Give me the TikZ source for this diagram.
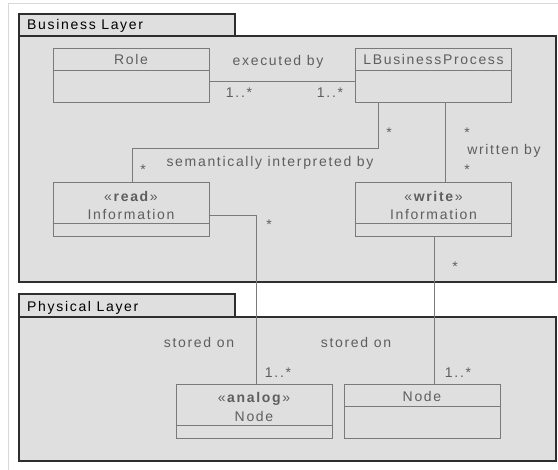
\documentclass[tikz,border=0pt]{standalone}
\usepackage{fontspec}
\setmainfont{Liberation Sans}[LetterSpace=12]
\begin{document}
\definecolor{paneFill}{HTML}{DFDFDF}
\definecolor{frameLine}{HTML}{2E2E2E}
\definecolor{boxLine}{HTML}{7A7A7A}
\definecolor{ink}{HTML}{5E5E5E}
\definecolor{edgeFrame}{HTML}{D8D8D8}
\begin{tikzpicture}[x=1pt,y=-1pt,
  font=\fontsize{14}{16}\selectfont,
  layer/.style={draw=frameLine,fill=paneFill,line width=1.1pt},
  classbox/.style={draw=boxLine,fill=paneFill,line width=0.9pt,minimum width=156pt,minimum height=54pt,inner sep=0pt},
  divider/.style={draw=boxLine,line width=0.9pt},
  assoc/.style={draw=boxLine,line width=0.9pt},
  lbl/.style={text=ink,inner sep=0pt},
  title/.style={text=black,inner sep=0pt,anchor=west}]
\useasboundingbox (0,0) rectangle (558,470);
% faint page edge
\draw[edgeFrame,line width=0.8pt] (8,470) -- (8,3) -- (558,3);

% package frames
\draw[layer] (19,14) rectangle (235,36);
\draw[layer] (19,36) rectangle (556,282);
\node[title] (blt) at (27,26) {Business Layer};
\draw[layer] (19,294) rectangle (235,317);
\draw[layer] (19,317) rectangle (556,461);
\node[title] (plt) at (27,308) {Physical Layer};

% classes
\node[classbox] (role) at (131,75) {};
\node[classbox] (lbp) at (433.5,75) {};
\node[classbox] (rinfo) at (131,209) {};
\node[classbox] (winfo) at (433.5,209) {};
\node[classbox] (anode) at (254,411) {};
\node[classbox] (pnode) at (422,411) {};

\draw[divider] (role.west |- 0,70) -- (role.east |- 0,70);
\draw[divider] (lbp.west |- 0,70) -- (lbp.east |- 0,70);
\draw[divider] (rinfo.west |- 0,223) -- (rinfo.east |- 0,223);
\draw[divider] (winfo.west |- 0,223) -- (winfo.east |- 0,223);
\draw[divider] (anode.west |- 0,425) -- (anode.east |- 0,425);
\draw[divider] (pnode.west |- 0,406) -- (pnode.east |- 0,406);

\node[lbl] (roleName) at (131,59.5) {Role};
\node[lbl] (lbpName) at (433.5,59.5) {LBusinessProcess};
\node[lbl] (rinfoSt) at (131,196) {«\textbf{read}»};
\node[lbl] (rinfoName) at (131,214.5) {Information};
\node[lbl] (winfoSt) at (433.5,196) {«\textbf{write}»};
\node[lbl] (winfoName) at (433.5,214.5) {Information};
\node[lbl] (anodeSt) at (254,398.5) {«\textbf{analog}»};
\node[lbl] (anodeName) at (254,416.5) {Node};
\node[lbl] (pnodeName) at (422,396) {Node};

% associations
\draw[assoc] (role.east |- 0,81) -- (lbp.west |- 0,81);
\draw[assoc] (lbp.south -| 378,0) -- (378,148) -- (132,148) -- (rinfo.north -| 132,0);
\draw[assoc] (lbp.south -| 445,0) -- (winfo.north -| 445,0);
\draw[assoc] (rinfo.east |- 0,215) -- (256,215) -- (anode.north -| 256,0);
\draw[assoc] (winfo.south -| 434,0) -- (pnode.north -| 434,0);

% association labels
\node[lbl] (exec) at (278,62) {executed by};
\node[lbl] (m1) at (239,93) {1..*};
\node[lbl] (m2) at (330,93) {1..*};
\node[lbl] (sem) at (270,163) {semantically interpreted by};
\node[lbl] (m3) at (389,133) {*};
\node[lbl] (m4) at (143,170) {*};
\node[lbl] (wrt) at (504,151) {written by};
\node[lbl] (m5) at (467,133) {*};
\node[lbl] (m6) at (467,170) {*};
\node[lbl] (m7) at (269,225) {*};
\node[lbl] (m8) at (455,267) {*};
\node[lbl] (st1) at (199,342) {stored on};
\node[lbl] (st2) at (356,342) {stored on};
\node[lbl] (m9) at (278,373) {1..*};
\node[lbl] (m10) at (458,373) {1..*};
\end{tikzpicture}
\end{document}
